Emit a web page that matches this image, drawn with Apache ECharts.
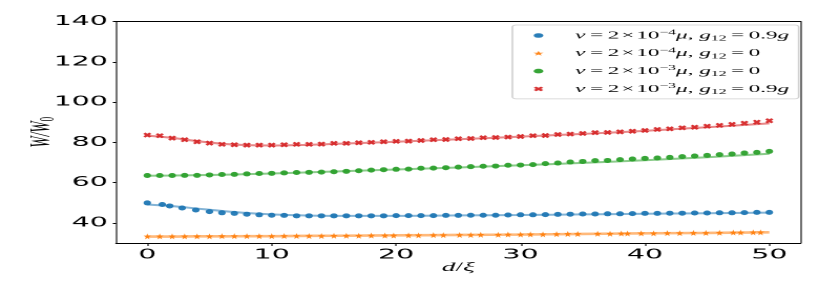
<!DOCTYPE html>
<html><head><meta charset="utf-8">
<script src="https://cdn.jsdelivr.net/npm/echarts@6/dist/echarts.min.js"></script>
<style>
html,body{margin:0;padding:0;background:#fff;overflow:hidden}
#wrap{width:830px;height:291px;overflow:hidden;position:relative;background:#fff}
#main{position:absolute;left:0;top:0;height:291px;transform-origin:0 0}
</style></head>
<body><div id="wrap"><div id="main"></div></div>
<script>
// ---------------- data ----------------
const xTicks = [0, 10, 20, 30, 40, 50];
const yTicks = [40, 60, 80, 100, 120, 140];

const blueX = [0,1.2,1.8,2.8,3.9,5,6,7,8,9,10,11,12,13,14,15,16,17,18,19,20,21,22,23,24,25,26,27,28,29,30,31,32,33,34,35,36,37,38,39,40,41,42,43,44,45,46,47,48,49,50];
const blueY = [49.9,49.1,48.4,47.4,46.4,45.6,45.0,44.7,44.3,44.0,43.8,43.7,43.5,43.5,43.5,43.5,43.5,43.5,43.5,43.5,43.6,43.6,43.6,43.6,43.7,43.7,43.8,43.8,43.8,43.9,44.0,44.0,44.1,44.2,44.3,44.4,44.4,44.5,44.5,44.6,44.7,44.7,44.8,44.8,44.9,44.9,45.0,45.0,45.1,45.2,45.2];

const orangeX = [0,1,2,3,4,5,6,7,8,9,10,11,12,13,14,15,16,17,18,19.1,19.8,21,21.8,23,23.8,25.1,26,26.8,28.2,29,30,30.8,31.8,32.9,33.8,34.6,36.2,37.2,38.1,38.6,39.7,40.7,41.8,42.8,43.9,44.9,46,47.1,47.7,48.7,49.3];
const orangeY = [33.3,33.3,33.3,33.3,33.3,33.3,33.4,33.4,33.4,33.4,33.4,33.5,33.5,33.5,33.5,33.6,33.6,33.6,33.7,33.7,33.7,33.8,33.8,33.9,33.9,34.0,34.0,34.1,34.1,34.2,34.2,34.3,34.3,34.4,34.5,34.5,34.6,34.6,34.7,34.7,34.8,34.8,34.9,34.9,35.0,35.0,35.1,35.2,35.2,35.3,35.3];

const greenX = [0,1,2,3,4,5,6,7,8,9,10,11,12,13,14,15,16,17,18,19,20,21,22,23,24,25,26,27,28,29,30,31,32,33,34,35,36,37,38,39,40,41,42,43,44,45,46,47,48,49,50];
const greenY = [63.5,63.5,63.5,63.6,63.6,63.8,64.0,64.1,64.3,64.5,64.6,64.8,65.0,65.1,65.2,65.4,65.6,65.9,66.2,66.4,66.6,66.7,67.1,67.2,67.4,67.7,67.9,68.1,68.2,68.6,68.7,68.9,69.4,69.7,70.2,70.5,70.9,71.0,71.4,71.7,72.0,72.2,72.5,72.9,73.2,73.5,73.9,74.2,74.7,75.0,75.5];

const redX = [0,1,2,3,4,5,6,7,8,9,10,11,12,13,14,15,16,17,18,19,20,21,22,23,24,25,26,27,28,29,30,31,32,33,34,35,36,37,38,39,40,41,42,43,44,45,46,47,48,49,50];
const redY = [83.6,83.3,82.1,81.3,80.3,79.6,79.0,78.8,78.6,78.6,78.6,78.8,79.0,79.0,79.1,79.5,79.5,79.8,80.0,80.3,80.5,80.6,80.9,81.3,81.4,81.8,81.9,82.3,82.4,82.6,82.9,83.3,83.4,83.9,84.1,84.4,84.8,84.9,85.2,85.5,85.9,86.4,86.7,87.2,87.5,88.0,88.4,88.9,89.5,90.0,90.7];

// fitted curves
const fitX = [0,2,4,6,8,10,12,15,20,25,30,35,40,45,50];
const blueFit = [49.1,48.3,47.1,45.9,44.9,44.2,43.8,43.5,43.5,43.7,43.9,44.2,44.5,44.8,45.1];
const orangeFit = [33.2,33.2,33.3,33.3,33.4,33.4,33.5,33.6,33.8,34.0,34.2,34.5,34.8,35.0,35.3];
const greenFit = [63.4,63.5,63.7,63.9,64.2,64.5,64.9,65.5,66.5,67.5,68.6,69.8,71.1,72.6,74.3];
const redFit = [83.3,82.2,80.6,79.3,78.6,78.4,78.6,79.2,80.3,81.5,82.8,84.2,85.7,87.5,89.4];

const nuExp = ['−4', '−4', '−3', '−3'];
const gVal = ['0.9g', '0', '0', '0.9g'];
const seriesNames = ['ν=2×10⁻⁴μ, g₁₂=0.9g', 'ν=2×10⁻⁴μ, g₁₂=0', 'ν=2×10⁻³μ, g₁₂=0', 'ν=2×10⁻³μ, g₁₂=0.9g'];
const colors = ['#1f77b4', '#ff7f0e', '#2ca02c', '#d62728'];

// ---------------- layout ----------------
const SX = 2.1;
const W = 830 / SX;
const el = document.getElementById('main');
el.style.width = W + 'px';
el.style.transform = 'scaleX(' + SX + ')';
const chart = echarts.init(el, null, { width: W, height: 291, devicePixelRatio: 2 });

const STAR = 'path://M0,-10L2.35,-3.24L9.51,-3.09L3.8,1.24L5.88,8.09L0,4L-5.88,8.09L-3.8,1.24L-9.51,-3.09L-2.35,-3.24Z';
const XMARK = 'path://M0,1.3L1.3,0L2.5,1.2L3.7,0L5,1.3L3.8,2.5L5,3.7L3.7,5L2.5,3.8L1.3,5L0,3.7L1.2,2.5Z';

const pts = (xs, ys) => xs.map((x, i) => [x, ys[i]]);
const sym = ['circle', STAR, 'circle', XMARK];
const symSize = [[3.6, 5], [3.6, 6], [3.6, 5], [3.9, 5.2]];
const scatX = [blueX, orangeX, greenX, redX];
const scatY = [blueY, orangeY, greenY, redY];
const fits = [blueFit, orangeFit, greenFit, redFit];

const series = [];
for (let k = 0; k < 4; k++) {
  series.push({
    type: 'line', data: pts(fitX, fits[k]), smooth: 0.35, symbol: 'none', silent: true,
    lineStyle: { color: colors[k], width: k === 1 ? 2.6 : 2, opacity: 0.55 }, z: 2
  });
}
for (let k = 0; k < 4; k++) {
  series.push({
    type: 'scatter', name: seriesNames[k], data: pts(scatX[k], scatY[k]),
    symbol: sym[k], symbolSize: symSize[k],
    itemStyle: { color: colors[k], opacity: 0.95 }, z: 3
  });
}

const serif = 'Liberation Serif';
const legendRich = {
  t: { fontFamily: serif, fontSize: 11, color: '#000', lineHeight: 14 },
  i: { fontFamily: serif, fontSize: 11, fontStyle: 'italic', color: '#000', lineHeight: 14 },
  sup: { fontFamily: serif, fontSize: 7.5, color: '#000', verticalAlign: 'top', lineHeight: 14, padding: [0, 0, 4, 0] },
  sub: { fontFamily: serif, fontSize: 7.5, color: '#000', verticalAlign: 'bottom', lineHeight: 14, padding: [3, 0, 0, 0] }
};
const HS = '\u200A';
const TS = '\u2009';
function legendLabel(name) {
  const k = seriesNames.indexOf(name);
  const g = gVal[k];
  const gPart = g.endsWith('g') ? '{t|' + g.slice(0, -1) + '}{i|g}' : '{t|' + g + '}';
  return '{i|ν}{t|' + TS + '=' + TS + '2' + HS + '×' + HS + '10}{sup|' + nuExp[k] + '}{i|μ}{t|, }{i|g}{sub|12}{t|' + TS + '=' + TS + '}' + gPart;
}

const axisFont = { fontFamily: 'DejaVu Sans', fontSize: 13.5, color: '#000' };

const option = {
  backgroundColor: '#fff',
  animation: false,
  grid: { left: 116.2 / SX, right: (830 - 800.4) / SX, top: 21.5, bottom: 48, containLabel: false, outerBoundsMode: 'none' },
  legend: {
    data: seriesNames,
    orient: 'vertical',
    left: 244, top: 25,
    padding: [3.5, 4.5, 3, 10],
    itemWidth: 25, itemHeight: 4.6, itemGap: 3.8,
    backgroundColor: '#fff',
    borderColor: '#d0d0d0', borderWidth: 0.8, borderRadius: 2,
    formatter: legendLabel,
    textStyle: { rich: legendRich, fontFamily: serif, fontSize: 11, color: '#000' }
  },
  xAxis: [{
    type: 'value', min: -2.5, max: 52.5,
    axisLine: { show: true, onZero: false, lineStyle: { color: '#000', width: 1 } },
    axisTick: { show: true, length: 3, lineStyle: { color: '#000', width: 0.55 }, customValues: xTicks },
    axisLabel: Object.assign({ margin: 5, customValues: xTicks, formatter: v => String(v) }, axisFont),
    splitLine: { show: false },
    name: '{i|d}{t|/}{i|ξ}', nameLocation: 'middle', nameGap: 18, nameMoveOverlap: false,
    nameTextStyle: { rich: {
      i: { fontFamily: serif, fontStyle: 'italic', fontSize: 13, color: '#000' },
      t: { fontFamily: serif, fontSize: 13, color: '#000' } } }
  }, {
    type: 'value', position: 'top', min: -2.5, max: 52.5,
    axisLine: { show: true, onZero: false, lineStyle: { color: '#000', width: 1 } },
    axisTick: { show: false }, axisLabel: { show: false }, splitLine: { show: false }
  }],
  yAxis: [{
    type: 'value', min: 30, max: 140,
    axisLine: { show: true, onZero: false, lineStyle: { color: '#000', width: 0.55 } },
    axisTick: { show: true, length: 1.6, lineStyle: { color: '#000', width: 1 }, customValues: yTicks },
    axisLabel: Object.assign({ margin: 4, customValues: yTicks, formatter: v => String(v) }, axisFont),
    splitLine: { show: false },
    name: '{i|W/W}{s|0}', nameLocation: 'middle', nameGap: 27.5, nameRotate: 90, nameMoveOverlap: false,
    nameTextStyle: { rich: {
      i: { fontFamily: serif, fontStyle: 'italic', fontSize: 13.5, color: '#000', lineHeight: 16 },
      s: { fontFamily: serif, fontSize: 9, color: '#000', verticalAlign: 'bottom', lineHeight: 16 } } }
  }, {
    type: 'value', position: 'right', min: 30, max: 140,
    axisLine: { show: true, onZero: false, lineStyle: { color: '#000', width: 0.55 } },
    axisTick: { show: false }, axisLabel: { show: false }, splitLine: { show: false }
  }],
  series: series
};
chart.setOption(option);
</script>
</body></html>
